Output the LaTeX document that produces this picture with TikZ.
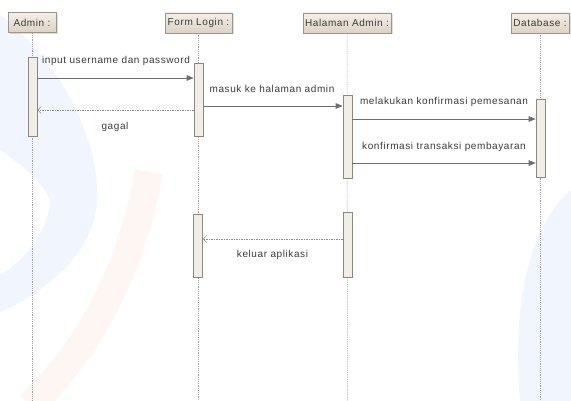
\documentclass[tikz,border=0pt]{standalone}
\usepackage{fontspec}
\setmainfont[LetterSpace=6]{Liberation Sans}
\usetikzlibrary{arrows.meta,shadows}

\definecolor{headtop}{HTML}{F4EFE8}
\definecolor{headbot}{HTML}{DCD2C4}
\definecolor{boxline}{HTML}{9C958B}
\definecolor{barfill}{HTML}{F1EDE7}
\definecolor{barline}{HTML}{8E877E}
\definecolor{msgline}{HTML}{6E6E6E}
\definecolor{textcol}{HTML}{3A3A3A}
\definecolor{wmblue}{HTML}{F1F5FD}
\definecolor{wmorange}{HTML}{FEF6F3}

\tikzset{
  head/.style={draw=boxline, line width=0.6pt, top color=headtop, bottom color=headbot,
    drop shadow={opacity=0.25, shadow xshift=1.5pt, shadow yshift=-1.5pt},
    minimum height=20pt, inner sep=0pt, font=\fontsize{10}{12}\selectfont, text=textcol},
  bar/.style={draw=barline, line width=0.6pt, fill=barfill, minimum width=9pt, inner sep=0pt},
  life/.style={draw=gray!75, dash pattern=on 1.2pt off 1pt, line width=0.5pt},
  call/.style={draw=msgline, line width=0.6pt, -{Triangle[length=7pt,width=5.5pt]}},
  back/.style={draw=msgline!80, line width=0.6pt, dash pattern=on 1.5pt off 1pt,
    -{Straight Barb[length=3.5pt,width=7pt]}},
  msg/.style={font=\fontsize{10}{12}\selectfont, text=textcol, inner sep=1pt}
}

\begin{document}
\begin{tikzpicture}[x=1pt,y=-1pt]
  \useasboundingbox (0,0) rectangle (571,401);
  \fill[white] (0,0) rectangle (571,401);

  % faint background marks
  \begin{scope}
    \clip (0,0) rectangle (571,401);
    \fill[wmblue] (0,15) .. controls (60,60) and (100,140) .. (97,200)
      .. controls (95,250) and (50,290) .. (0,312) -- (0,275)
      .. controls (25,260) and (45,235) .. (50,205)
      .. controls (50,190) and (30,170) .. (0,150) -- cycle;
    \draw[wmorange, line width=28pt] (149,172) .. controls (135,250) and (100,340) .. (30,405);
    \fill[wmblue] (571,190) .. controls (530,225) and (512,300) .. (520,401) -- (571,401) -- cycle;
  \end{scope}

  % lifeline heads
  \node[head, minimum width=48pt] (admin) at (32,22.5) {Admin :};
  \node[head, minimum width=67pt] (form) at (198.5,23) {Form Login :};
  \node[head, minimum width=88pt] (halaman) at (347,23) {Halaman Admin :};
  \node[head, minimum width=58pt] (db) at (540,23) {Database :};

  % lifelines
  \coordinate (adminEnd) at (32,401);
  \coordinate (formEnd) at (198.5,401);
  \coordinate (halamanEnd) at (347.5,401);
  \coordinate (dbEnd) at (540,401);
  \draw[life] (admin) -- (adminEnd);
  \draw[life] (form) -- (formEnd);
  \draw[life] (halaman) -- (halamanEnd);
  \draw[life] (db) -- (dbEnd);

  % activation bars
  \node[bar, minimum height=79pt] (adminAct) at (32.5,96.5) {};
  \node[bar, minimum height=73pt] (formAct) at (198.5,99.5) {};
  \node[bar, minimum height=83pt] (halamanAct) at (347.5,136.5) {};
  \node[bar, minimum height=78pt] (dbAct) at (540.5,138) {};
  \node[bar, minimum height=63pt] (formAct2) at (198,245.5) {};
  \node[bar, minimum height=65pt] (halamanAct2) at (347.5,244.5) {};

  % message ends
  \coordinate (m1a) at (adminAct.east |- 0,78);
  \coordinate (m1b) at (formAct.west |- 0,78);
  \coordinate (m2a) at (formAct.west |- 0,110);
  \coordinate (m2b) at (adminAct.east |- 0,110);
  \coordinate (m3a) at (formAct.east |- 0,106);
  \coordinate (m3b) at (halamanAct.west |- 0,106);
  \coordinate (m4a) at (halamanAct.east |- 0,119);
  \coordinate (m4b) at (dbAct.west |- 0,119);
  \coordinate (m5a) at (halamanAct.east |- 0,163);
  \coordinate (m5b) at (dbAct.west |- 0,163);
  \coordinate (m6a) at (halamanAct2.west |- 0,239);
  \coordinate (m6b) at (formAct2.east |- 0,239);

  % messages
  \draw[call] (m1a) -- (m1b);
  \draw[back] (m2a) -- (m2b);
  \draw[call] (m3a) -- (m3b);
  \draw[call] (m4a) -- (m4b);
  \draw[call] (m5a) -- (m5b);
  \draw[back] (m6a) -- (m6b);

  \node[msg] (l1) at (116,61) {input username dan password};
  \node[msg] (l2) at (115,127) {gagal};
  \node[msg] (l3) at (272,89) {masuk ke halaman admin};
  \node[msg] (l4) at (444,102) {melakukan konfirmasi pemesanan};
  \node[msg] (l5) at (444,147) {konfirmasi transaksi pembayaran};
  \node[msg] (l6) at (272.5,255) {keluar aplikasi};
\end{tikzpicture}
\end{document}
